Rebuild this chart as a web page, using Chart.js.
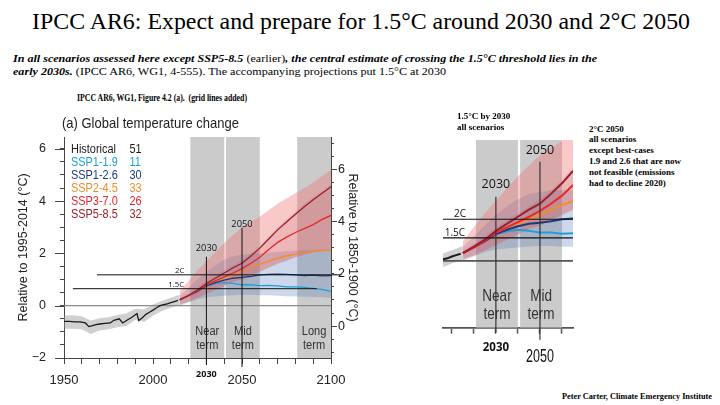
<!DOCTYPE html>
<html>
<head>
<meta charset="utf-8">
<script src="https://cdn.jsdelivr.net/npm/chart.js@4.4.1/dist/chart.umd.min.js"></script>
<style>
  html, body { margin: 0; padding: 0; background: #fff; }
  #page { position: relative; width: 720px; height: 405px; overflow: hidden;
          font-family: "Liberation Serif", "Times New Roman", serif; color: #000; }
  .t { position: absolute; white-space: nowrap; line-height: 1; transform-origin: 0 0; }
  .b { font-weight: bold; }
  .bi { font-weight: bold; font-style: italic; }
  canvas { position: absolute; }
</style>
</head>
<body>
<div id="page">
  <div class="t fit" data-w="658" style="left:32px; top:9px; font-size:24px;">IPCC AR6: Expect and prepare for 1.5°C around 2030 and 2°C 2050</div>
  <div class="t fit" data-w="584" style="left:13px; top:52.5px; font-size:11px;"><span class="bi">In all scenarios assessed here except SSP5-8.5</span> (earlier)<span class="bi">, the central estimate of crossing the 1.5°C threshold lies in the</span></div>
  <div class="t fit" data-w="433" style="left:13px; top:66px; font-size:11px;"><span class="bi">early 2030s.</span> (IPCC AR6, WG1, 4-555). The accompanying projections put 1.5°C at 2030</div>
  <div class="t fit b" data-w="170" style="left:77px; top:93px; font-size:10px;">IPCC AR6, WG1, Figure 4.2 (a).&nbsp; (grid lines added)</div>

  <canvas id="main" width="372" height="295" style="left:0; top:100px;"></canvas>
  <div class="t fit" data-w="177" style="left:62px; top:115px; font-size:15px; font-family:'Liberation Sans', Arial, sans-serif; color:#222;">(a) Global temperature change</div>

  <canvas id="inset" width="150" height="270" style="left:430px; top:100px;"></canvas>

  <div class="t b" style="left:457px; top:110.6px; font-size:9px; line-height:11.4px;">1.5°C by 2030<br>all scenarios</div>
  <div class="t b" style="left:589px; top:123.6px; font-size:9px; line-height:10.8px;">2°C 2050<br>all scenarios<br>except best-cases<br>1.9 and 2.6 that are now<br>not feasible (emissions<br>had to decline 2020)</div>
  <div class="t fit b" data-w="150" style="left:562px; top:392.6px; font-size:8px;">Peter Carter, Climate Emergency Institute</div>
</div>

<script>
// ---- valeurs (°C, relatif à 1995-2014) ----
const HIST_YEARS = [1950, 1953, 1956, 1959, 1962, 1964, 1966, 1968, 1970, 1973, 1976, 1978, 1981, 1983, 1986, 1988, 1991, 1992, 1994, 1996, 1998, 2000, 2002, 2004, 2006, 2008, 2010, 2012, 2014];
const HIST_VALUES = [-0.6, -0.6, -0.62, -0.62, -0.66, -0.8, -0.76, -0.72, -0.7, -0.68, -0.66, -0.56, -0.5, -0.66, -0.53, -0.45, -0.3, -0.57, -0.46, -0.33, -0.25, -0.17, -0.08, 0.0, 0.04, 0.07, 0.12, 0.16, 0.2];

const HIST_BAND_YEARS = [1950, 1955, 1960, 1965, 1970, 1975, 1980, 1985, 1990, 1995, 2000, 2005, 2010, 2015];
const HIST_BAND_UP = [-0.37, -0.37, -0.4, -0.57, -0.48, -0.44, -0.36, -0.3, -0.12, -0.15, 0.05, 0.18, 0.3, 0.42];
const HIST_BAND_LO = [-0.88, -0.88, -0.9, -1.08, -0.95, -0.9, -0.82, -0.78, -0.55, -0.62, -0.38, -0.2, -0.08, 0.02];

const PROJ_YEARS = [2015, 2020, 2025, 2030, 2035, 2040, 2045, 2050, 2055, 2060, 2065, 2070, 2075, 2080, 2085, 2090, 2095, 2100];
const SSP119 = [0.22, 0.38, 0.58, 0.76, 0.84, 0.88, 0.85, 0.8, 0.8, 0.77, 0.78, 0.76, 0.72, 0.72, 0.7, 0.66, 0.62, 0.55];
const SSP126 = [0.22, 0.38, 0.55, 0.76, 0.88, 0.98, 1.05, 1.08, 1.12, 1.18, 1.2, 1.21, 1.2, 1.18, 1.15, 1.17, 1.14, 1.15];
const SSP245 = [0.22, 0.38, 0.58, 0.8, 0.95, 1.06, 1.18, 1.3, 1.45, 1.58, 1.7, 1.82, 1.9, 1.97, 2.02, 2.07, 2.1, 2.12];
const SSP370 = [0.22, 0.38, 0.57, 0.8, 0.95, 1.1, 1.25, 1.42, 1.62, 1.85, 2.15, 2.42, 2.62, 2.8, 2.95, 3.1, 3.3, 3.45];
const SSP585 = [0.22, 0.4, 0.6, 0.85, 1.05, 1.25, 1.45, 1.62, 1.9, 2.2, 2.55, 2.9, 3.2, 3.5, 3.78, 4.05, 4.3, 4.55];

// plages ombrées
const LOW_RANGE_UP = [0.4, 0.7, 1.0, 1.3, 1.55, 1.75, 1.9, 1.95, 2.0, 2.0, 2.02, 2.05, 2.08, 2.1, 2.12, 2.12, 2.15, 2.2];
const LOW_RANGE_LO = [0.0, 0.12, 0.25, 0.32, 0.35, 0.38, 0.4, 0.42, 0.42, 0.4, 0.4, 0.38, 0.36, 0.35, 0.34, 0.33, 0.32, 0.3];
const HIGH_RANGE_UP = [0.55, 0.95, 1.35, 1.7, 2.05, 2.4, 2.7, 3.0, 3.2, 3.4, 3.65, 3.9, 4.1, 4.3, 4.5, 4.7, 4.95, 5.2];
const HIGH_RANGE_LO = [0.05, 0.15, 0.3, 0.45, 0.6, 0.75, 0.9, 1.0, 1.15, 1.3, 1.45, 1.6, 1.72, 1.85, 1.95, 2.05, 2.12, 2.2];
const HIGH_CORE_UP = [0.3, 0.5, 0.7, 0.95, 1.15, 1.35, 1.55, 1.75, 2.0, 2.3, 2.65, 3.0, 3.3, 3.6, 3.9, 4.15, 4.4, 4.65];

const SCENARIO_NAMES = ['Historical', 'SSP1-1.9', 'SSP1-2.6', 'SSP2-4.5', 'SSP3-7.0', 'SSP5-8.5'];
const SCENARIO_MODELS = [51, 11, 30, 33, 26, 32];
const SCENARIO_COLORS = ['#1a1a1a', '#1f9fd8', '#1d3a7a', '#f28c28', '#e8262c', '#9b1f2a'];

const TERM_START = [2021, 2041, 2081];
const TERM_END = [2040, 2060, 2100];
const TERM_NAMES = ['Near', 'Mid', 'Long'];
const TERM_TEXT_Y = [-1.0, -1.52];

const THRESH_NAMES = ['2C', '1.5C'];
const THRESH_VALUES = [1.18, 0.65];
const THRESH_START = [1968.5, 1955];
const THRESH_END = [2106, 2092];
const THRESH_LABEL_X = [2015, 2013];
const INSET_THRESH_LABEL_X = [2013.7, 2011.4];

const MARK_YEARS = [2030, 2050];
const MARK_TOP = [1.87, 2.98];
const MARK_BOTTOM = [-2.27, -2.35];
const MARK_LABEL_Y = [2.18, 3.12];
const INSET_MARK_TOP = [1.82, 2.81];
const INSET_MARK_BOTTOM = [-2.04, -2.24];

const X_LABELED = [1950, 2000, 2050, 2100];
const Y_LABELED = [-2, 0, 2, 4, 6];
const Y2_LABELED = [0, 2, 4, 6];
const R_OFFSET = 0.78; // 1850-1900 -> 1995-2014

const SANS = "'Liberation Sans', Arial, sans-serif";
const LABEL_FONT = "'Open Sans', sans-serif";
const AXIS_COLOR = '#444';

function pts(xs, ys) {
    return xs.map((x, i) => ({ x: x, y: ys[i] }));
}

function band(xs, lo, hi, color, order) {
    return [
        { data: pts(xs, lo), borderColor: 'transparent', borderWidth: 0, pointRadius: 0, fill: false, order: order },
        { data: pts(xs, hi), borderColor: 'transparent', borderWidth: 0, pointRadius: 0, fill: '-1', backgroundColor: color, order: order }
    ];
}

function line(xs, ys, color, width, order, clip) {
    return { data: pts(xs, ys), borderColor: color, borderWidth: width, pointRadius: 0, fill: false, tension: 0, order: order, clip: clip === undefined ? 0 : clip };
}

function buildDatasets(o) {
    let sets = [];
    sets = sets.concat(band(HIST_BAND_YEARS, HIST_BAND_LO, HIST_BAND_UP, 'rgba(150,150,150,0.45)', 20));
    sets = sets.concat(band(PROJ_YEARS, LOW_RANGE_LO, LOW_RANGE_UP, 'rgba(90,130,185,0.3)', 18));
    sets = sets.concat(band(PROJ_YEARS, HIGH_RANGE_LO, HIGH_RANGE_UP, 'rgba(238,110,110,0.38)', 16));
    sets = sets.concat(band(PROJ_YEARS, HIGH_RANGE_LO, HIGH_CORE_UP, 'rgba(160,60,70,0.12)', 15));

    sets.push(line([o.xMin, o.xMax], [0, 0], o.zeroColor, o.zeroWidth, 12));
    sets.push(line(HIST_YEARS, HIST_VALUES, SCENARIO_COLORS[0], o.lw, 10));
    sets.push(line(PROJ_YEARS, SSP119, SCENARIO_COLORS[1], o.lw, 9));
    sets.push(line(PROJ_YEARS, SSP126, SCENARIO_COLORS[2], o.lw, 8));
    sets.push(line(PROJ_YEARS, SSP245, SCENARIO_COLORS[3], o.lw, 7));
    sets.push(line(PROJ_YEARS, SSP370, SCENARIO_COLORS[4], o.lw, 6));
    sets.push(line(PROJ_YEARS, SSP585, SCENARIO_COLORS[5], o.lw, 5));

    THRESH_VALUES.forEach((v, i) => {
        sets.push(line([o.threshStart[i], o.threshEnd[i]], [v, v], '#111', o.threshWidth, 2, false));
    });
    MARK_YEARS.forEach((yr, i) => {
        sets.push(line([yr, yr], [o.markBottom[i], o.markTop[i]], o.markColor, o.markWidth, 1, false));
    });
    return sets;
}

function squeeze(ctx, text, x, y, sx, align) {
    ctx.save();
    ctx.translate(x, y);
    ctx.scale(sx, 1);
    ctx.textAlign = align;
    ctx.fillText(text, 0, 0);
    ctx.restore();
}

function decorPlugin(d) {
    return {
        id: 'decor',
        beforeDatasetsDraw(chart) {
            const { ctx, chartArea: a, scales: { x, y } } = chart;
            ctx.save();
            ctx.beginPath();
            ctx.rect(a.left, a.top, a.right - a.left, a.bottom - a.top);
            ctx.clip();
            ctx.fillStyle = '#cbcbcb';
            TERM_START.forEach((s, i) => {
                const x0 = x.getPixelForValue(s);
                const x1 = x.getPixelForValue(TERM_END[i]);
                ctx.fillRect(x0, a.top, x1 - x0, a.bottom - a.top);
            });
            ctx.fillStyle = '#333';
            ctx.font = d.termSize + 'px ' + SANS;
            ctx.textBaseline = 'middle';
            TERM_NAMES.forEach((name, i) => {
                const cx = x.getPixelForValue((TERM_START[i] + TERM_END[i]) / 2);
                if (cx > a.right) return;
                squeeze(ctx, name, cx, y.getPixelForValue(TERM_TEXT_Y[0]), d.termSqueeze, 'center');
                squeeze(ctx, 'term', cx, y.getPixelForValue(TERM_TEXT_Y[1]), d.termSqueeze, 'center');
            });
            ctx.restore();
        },
        afterDraw(chart) {
            const { ctx, chartArea: a, scales } = chart;
            const x = scales.x, y = scales.y;
            ctx.save();
            ctx.fillStyle = '#111';

            // 2030 / 2050 au-dessus des lignes
            ctx.font = d.markSize + 'px ' + LABEL_FONT;
            ctx.textAlign = 'center';
            ctx.textBaseline = 'middle';
            MARK_YEARS.forEach((yr, i) => {
                ctx.fillText(String(yr), x.getPixelForValue(yr), y.getPixelForValue(MARK_LABEL_Y[i]));
            });

            // 2C / 1.5C
            ctx.font = d.threshSize + 'px ' + LABEL_FONT;
            ctx.textBaseline = 'alphabetic';
            THRESH_NAMES.forEach((name, i) => {
                ctx.fillText(name, x.getPixelForValue(d.threshLabelX[i]), y.getPixelForValue(THRESH_VALUES[i]) - 2);
            });

            // étiquettes sous l'axe
            d.below.forEach(b => {
                ctx.font = b.font;
                ctx.textBaseline = 'middle';
                squeeze(ctx, String(MARK_YEARS[b.mark]), x.getPixelForValue(MARK_YEARS[b.mark]), a.bottom + b.dy, b.sx, 'center');
            });

            if (d.legend) {
                ctx.font = '13px ' + SANS;
                ctx.textBaseline = 'middle';
                SCENARIO_NAMES.forEach((name, i) => {
                    const yy = a.top + 12 + i * 13;
                    ctx.fillStyle = SCENARIO_COLORS[i];
                    squeeze(ctx, name, a.left + 7, yy, 0.84, 'left');
                    squeeze(ctx, String(SCENARIO_MODELS[i]), a.left + 65.5, yy, 0.84, 'left');
                });
            }

            if (d.longTicks) {
                ctx.strokeStyle = AXIS_COLOR;
                ctx.lineWidth = 1;
                ctx.beginPath();
                Y_LABELED.forEach(v => {
                    const py = Math.round(y.getPixelForValue(v)) + 0.5;
                    ctx.moveTo(a.left - 9, py);
                    ctx.lineTo(a.left, py);
                });
                Y2_LABELED.forEach(v => {
                    const py = Math.round(scales.y2.getPixelForValue(v)) + 0.5;
                    ctx.moveTo(a.right, py);
                    ctx.lineTo(a.right + 6, py);
                });
                ctx.stroke();
            }
            ctx.restore();
        }
    };
}

function fmt(v) {
    return v < 0 ? '\u2212' + Math.abs(v) : String(v);
}

// ---- graphique principal ----
new Chart(document.getElementById('main'), {
    type: 'line',
    data: {
        datasets: buildDatasets({
            xMin: 1950, xMax: 2100, lw: 1.3, zeroColor: '#8a8a8a', zeroWidth: 1.2,
            threshStart: THRESH_START, threshEnd: THRESH_END, threshWidth: 1,
            markTop: MARK_TOP, markBottom: MARK_BOTTOM, markColor: '#111', markWidth: 1
        })
    },
    options: {
        responsive: false,
        animation: false,
        layout: { padding: { top: 37, left: 0, right: 0, bottom: 0 } },
        plugins: { legend: { display: false }, tooltip: { enabled: false } },
        scales: {
            x: {
                type: 'linear', min: 1950, max: 2100,
                border: { display: true, color: AXIS_COLOR, width: 1 },
                grid: { drawOnChartArea: false, tickLength: 6, tickColor: AXIS_COLOR },
                ticks: {
                    stepSize: 10, includeBounds: false, autoSkip: false, maxRotation: 0, padding: 9,
                    color: '#222', font: { family: SANS, size: 13 },
                    callback: v => X_LABELED.includes(v) ? String(v) : ''
                },
                afterFit: s => { s.height = 37; }
            },
            y: {
                position: 'left', min: -2, max: 6.45,
                border: { display: true, color: AXIS_COLOR, width: 1 },
                grid: { drawOnChartArea: false, tickLength: 4, tickColor: AXIS_COLOR },
                ticks: {
                    stepSize: 0.5, includeBounds: false, autoSkip: false, padding: 14,
                    color: '#222', font: { family: SANS, size: 12.5 },
                    callback: v => Y_LABELED.includes(v) ? fmt(v) : ''
                },
                title: { display: true, text: 'Relative to 1995-2014 (°C)', color: '#222', font: { family: SANS, size: 12.5 }, padding: { top: 16, bottom: 0 } },
                afterFit: s => { s.width = 64; }
            },
            y2: {
                position: 'right', min: -2 + R_OFFSET, max: 6.45 + R_OFFSET,
                border: { display: true, color: AXIS_COLOR, width: 1 },
                grid: { drawOnChartArea: false, tickLength: 3, tickColor: AXIS_COLOR },
                ticks: {
                    stepSize: 0.5, includeBounds: false, autoSkip: false, padding: 4,
                    color: '#222', font: { family: SANS, size: 12.5 },
                    callback: v => Y2_LABELED.includes(v) ? String(v) : ''
                },
                title: { display: true, text: 'Relative to 1850-1900 (°C)', color: '#222', font: { family: SANS, size: 12.5 }, padding: { top: 12, bottom: 0 } },
                afterFit: s => { s.width = 41; }
            }
        }
    },
    plugins: [decorPlugin({
        termSize: 12, termSqueeze: 0.92, markSize: 9.3, threshSize: 7.8,
        threshLabelX: THRESH_LABEL_X, legend: true, longTicks: true,
        below: [{ mark: 0, dy: 16, font: 'bold 9px ' + LABEL_FONT, sx: 1 }]
    })]
});

// ---- agrandissement à droite ----
new Chart(document.getElementById('inset'), {
    type: 'line',
    data: {
        datasets: buildDatasets({
            xMin: 2006, xMax: 2065, lw: 2, zeroColor: '#555', zeroWidth: 1.8,
            threshStart: [2006, 2006], threshEnd: [2065, 2065], threshWidth: 1.2,
            markTop: INSET_MARK_TOP, markBottom: INSET_MARK_BOTTOM, markColor: '#333', markWidth: 1.2
        })
    },
    options: {
        responsive: false,
        animation: false,
        layout: { padding: { top: 40, left: 13, right: 7, bottom: 0 } },
        plugins: { legend: { display: false }, tooltip: { enabled: false } },
        scales: {
            x: {
                type: 'linear', min: 2006, max: 2065,
                border: { display: true, color: '#555', width: 1.8 },
                grid: { drawOnChartArea: false, tickLength: 6, tickColor: '#555', tickWidth: 1.5 },
                ticks: { stepSize: 10, includeBounds: false, autoSkip: false, maxRotation: 0, callback: () => '' },
                afterFit: s => { s.height = 42.3; }
            },
            y: { display: false, min: -1.9, max: 3.43 }
        }
    },
    plugins: [decorPlugin({
        termSize: 16.5, termSqueeze: 0.82, markSize: 12.5, threshSize: 10,
        threshLabelX: INSET_THRESH_LABEL_X, legend: false, longTicks: false,
        below: [
            { mark: 0, dy: 20, font: 'bold 11.5px ' + LABEL_FONT, sx: 1 },
            { mark: 1, dy: 29.3, font: '17.5px ' + SANS, sx: 0.72 }
        ]
    })]
});

// ajuste la largeur des textes sur celle de la diapositive
document.querySelectorAll('.fit').forEach(el => {
    const w = el.getBoundingClientRect().width;
    el.style.transform = 'scaleX(' + (el.dataset.w / w) + ')';
});
</script>
</body>
</html>
